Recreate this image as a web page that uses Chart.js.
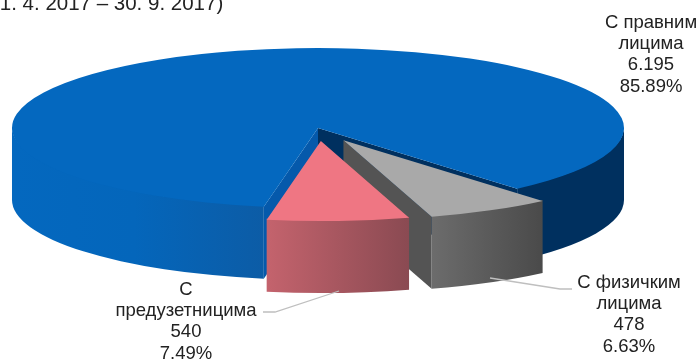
<!DOCTYPE html>
<html>
<head>
<meta charset="utf-8">
<style>html,body{margin:0;padding:0;background:#fff;overflow:hidden}#w{position:relative;width:698px;height:360px}</style>
<script src="https://cdn.jsdelivr.net/npm/chart.js@4/dist/chart.umd.js"></script>
</head>
<body>
<div id="w"><canvas id="c" width="698" height="360"></canvas></div>
<script>
const categories = ['С правним лицима', 'С физичким лицима', 'С предузетницима'];
const counts = [6195, 478, 540];
const percents = ['85.89%', '6.63%', '7.49%'];
const countLabels = ['6.195', '478', '540'];
const titleFragment = '(1. 4. 2017 – 30. 9. 2017)';

// ---- styling / layout, separate from the data ----
const CX = 318, CY = 128, R = 306, SY = 80 / 306, DEPTH = 72;
const EXPLODE = [0, 53, 50];
const START_DEG = 190.2;
const topColors = ['#0468bf', '#a9a9a9', '#ef7683'];
const wallStops = [
  [[0, '#0468bf'], [0.2, '#0466bb'], [0.41, '#0c5ca6'], [0.83, '#00305f'], [1, '#00305f']],
  [[0, '#6c6c6c'], [1, '#4a4a4a']],
  [[0, '#c4636d'], [1, '#8a4a52']]
];
// colour of the wall on the start edge and on the end edge of each slice
const radialColors = [['#0559ab', '#00305f'], [null, '#545454'], [null, null]];
const labelLayout = [
  {x: 651, y: 23, lines: ['С правним', 'лицима']},
  {x: 629, y: 283, lines: ['С физичким', 'лицима']},
  {x: 186, y: 290, lines: ['С', 'предузетницима']}
];
const leaders = [
  null,
  [[490, 278], [560, 289], [572, 289]],
  [[339, 291], [275, 312], [263, 312]]
];

function wallPath(ctx, x, y, a, b) {
  ctx.beginPath();
  // start slightly above the rim so the top face overlaps the wall without a seam
  ctx.ellipse(x, y - 1, R, R * SY, 0, a, b, false);
  ctx.lineTo(x + R * Math.cos(b), y + R * SY * Math.sin(b) + DEPTH);
  ctx.ellipse(x, y + DEPTH, R, R * SY, 0, b, a, true);
  ctx.closePath();
}

function radialWall(ctx, x, y, ang, color) {
  const ex = x + R * Math.cos(ang), ey = y + R * SY * Math.sin(ang);
  ctx.fillStyle = color;
  ctx.beginPath();
  ctx.moveTo(x, y);
  ctx.lineTo(ex, ey);
  ctx.lineTo(ex, ey + DEPTH);
  ctx.lineTo(x, y + DEPTH);
  ctx.closePath();
  ctx.fill();
}

const pie3d = {
  id: 'pie3d',
  beforeDatasetsDraw(chart) {
    const ctx = chart.ctx;
    const arcs = chart.getDatasetMeta(0).data;
    arcs.forEach((arc, i) => {
      const mid = (arc.startAngle + arc.endAngle) / 2;
      const x = arc.x + Math.cos(mid) * EXPLODE[i];
      const y = arc.y + Math.sin(mid) * EXPLODE[i] * SY;
      const s = arc.startAngle, e = arc.endAngle;
      if (radialColors[i][0]) radialWall(ctx, x, y, s, radialColors[i][0]);
      if (radialColors[i][1]) radialWall(ctx, x, y, e, radialColors[i][1]);
      // outer wall: only the part of the rim that faces the viewer
      const base = Math.floor(s / (2 * Math.PI)) * 2 * Math.PI;
      [[0, Math.PI], [2 * Math.PI, 3 * Math.PI]].forEach(r => {
        const a = Math.max(s, base + r[0]), b = Math.min(e, base + r[1]);
        if (b <= a) return;
        const x0 = x + R * Math.cos(a), x1 = x + R * Math.cos(b);
        const g = i === 0
          ? ctx.createLinearGradient(x - R, 0, x + R, 0)
          : ctx.createLinearGradient(Math.min(x0, x1), 0, Math.max(x0, x1), 0);
        wallStops[i].forEach(st => g.addColorStop(st[0], st[1]));
        ctx.fillStyle = g;
        wallPath(ctx, x, y, a, b);
        ctx.fill();
      });
      // top face: the library's own arc element, squashed and moved
      ctx.save();
      ctx.translate(x, y);
      ctx.scale(1, SY);
      ctx.translate(-arc.x, -arc.y);
      arc.draw(ctx);
      ctx.restore();
    });
    return false;
  },
  afterDraw(chart) {
    const ctx = chart.ctx;
    ctx.save();
    ctx.strokeStyle = '#bfbfbf';
    ctx.lineWidth = 1.3;
    leaders.forEach(l => {
      if (!l) return;
      ctx.beginPath();
      l.forEach((p, i) => i ? ctx.lineTo(p[0], p[1]) : ctx.moveTo(p[0], p[1]));
      ctx.stroke();
    });
    ctx.fillStyle = '#222222';
    ctx.font = '20.5px "Liberation Sans", Arial, sans-serif';
    ctx.textAlign = 'left';
    ctx.textBaseline = 'alphabetic';
    ctx.fillText(titleFragment, -7, 10);
    ctx.font = '18.5px "Liberation Sans", Arial, sans-serif';
    ctx.textAlign = 'center';
    ctx.textBaseline = 'middle';
    labelLayout.forEach((l, i) => {
      const lines = l.lines.concat([countLabels[i], percents[i]]);
      lines.forEach((t, k) => ctx.fillText(t, l.x, l.y + k * 21.2));
    });
    ctx.restore();
  }
};

new Chart(document.getElementById('c'), {
  type: 'pie',
  data: {
    labels: categories,
    datasets: [{
      data: counts,
      backgroundColor: topColors,
      borderWidth: 0,
      hoverOffset: 0
    }]
  },
  options: {
    responsive: false,
    animation: false,
    rotation: START_DEG,
    radius: R,
    layout: {padding: {left: 0, right: 698 - 2 * CX, top: 0, bottom: 360 - 2 * CY}},
    plugins: {legend: {display: false}, tooltip: {enabled: false}, title: {display: false}}
  },
  plugins: [pie3d]
});
</script>
</body>
</html>
